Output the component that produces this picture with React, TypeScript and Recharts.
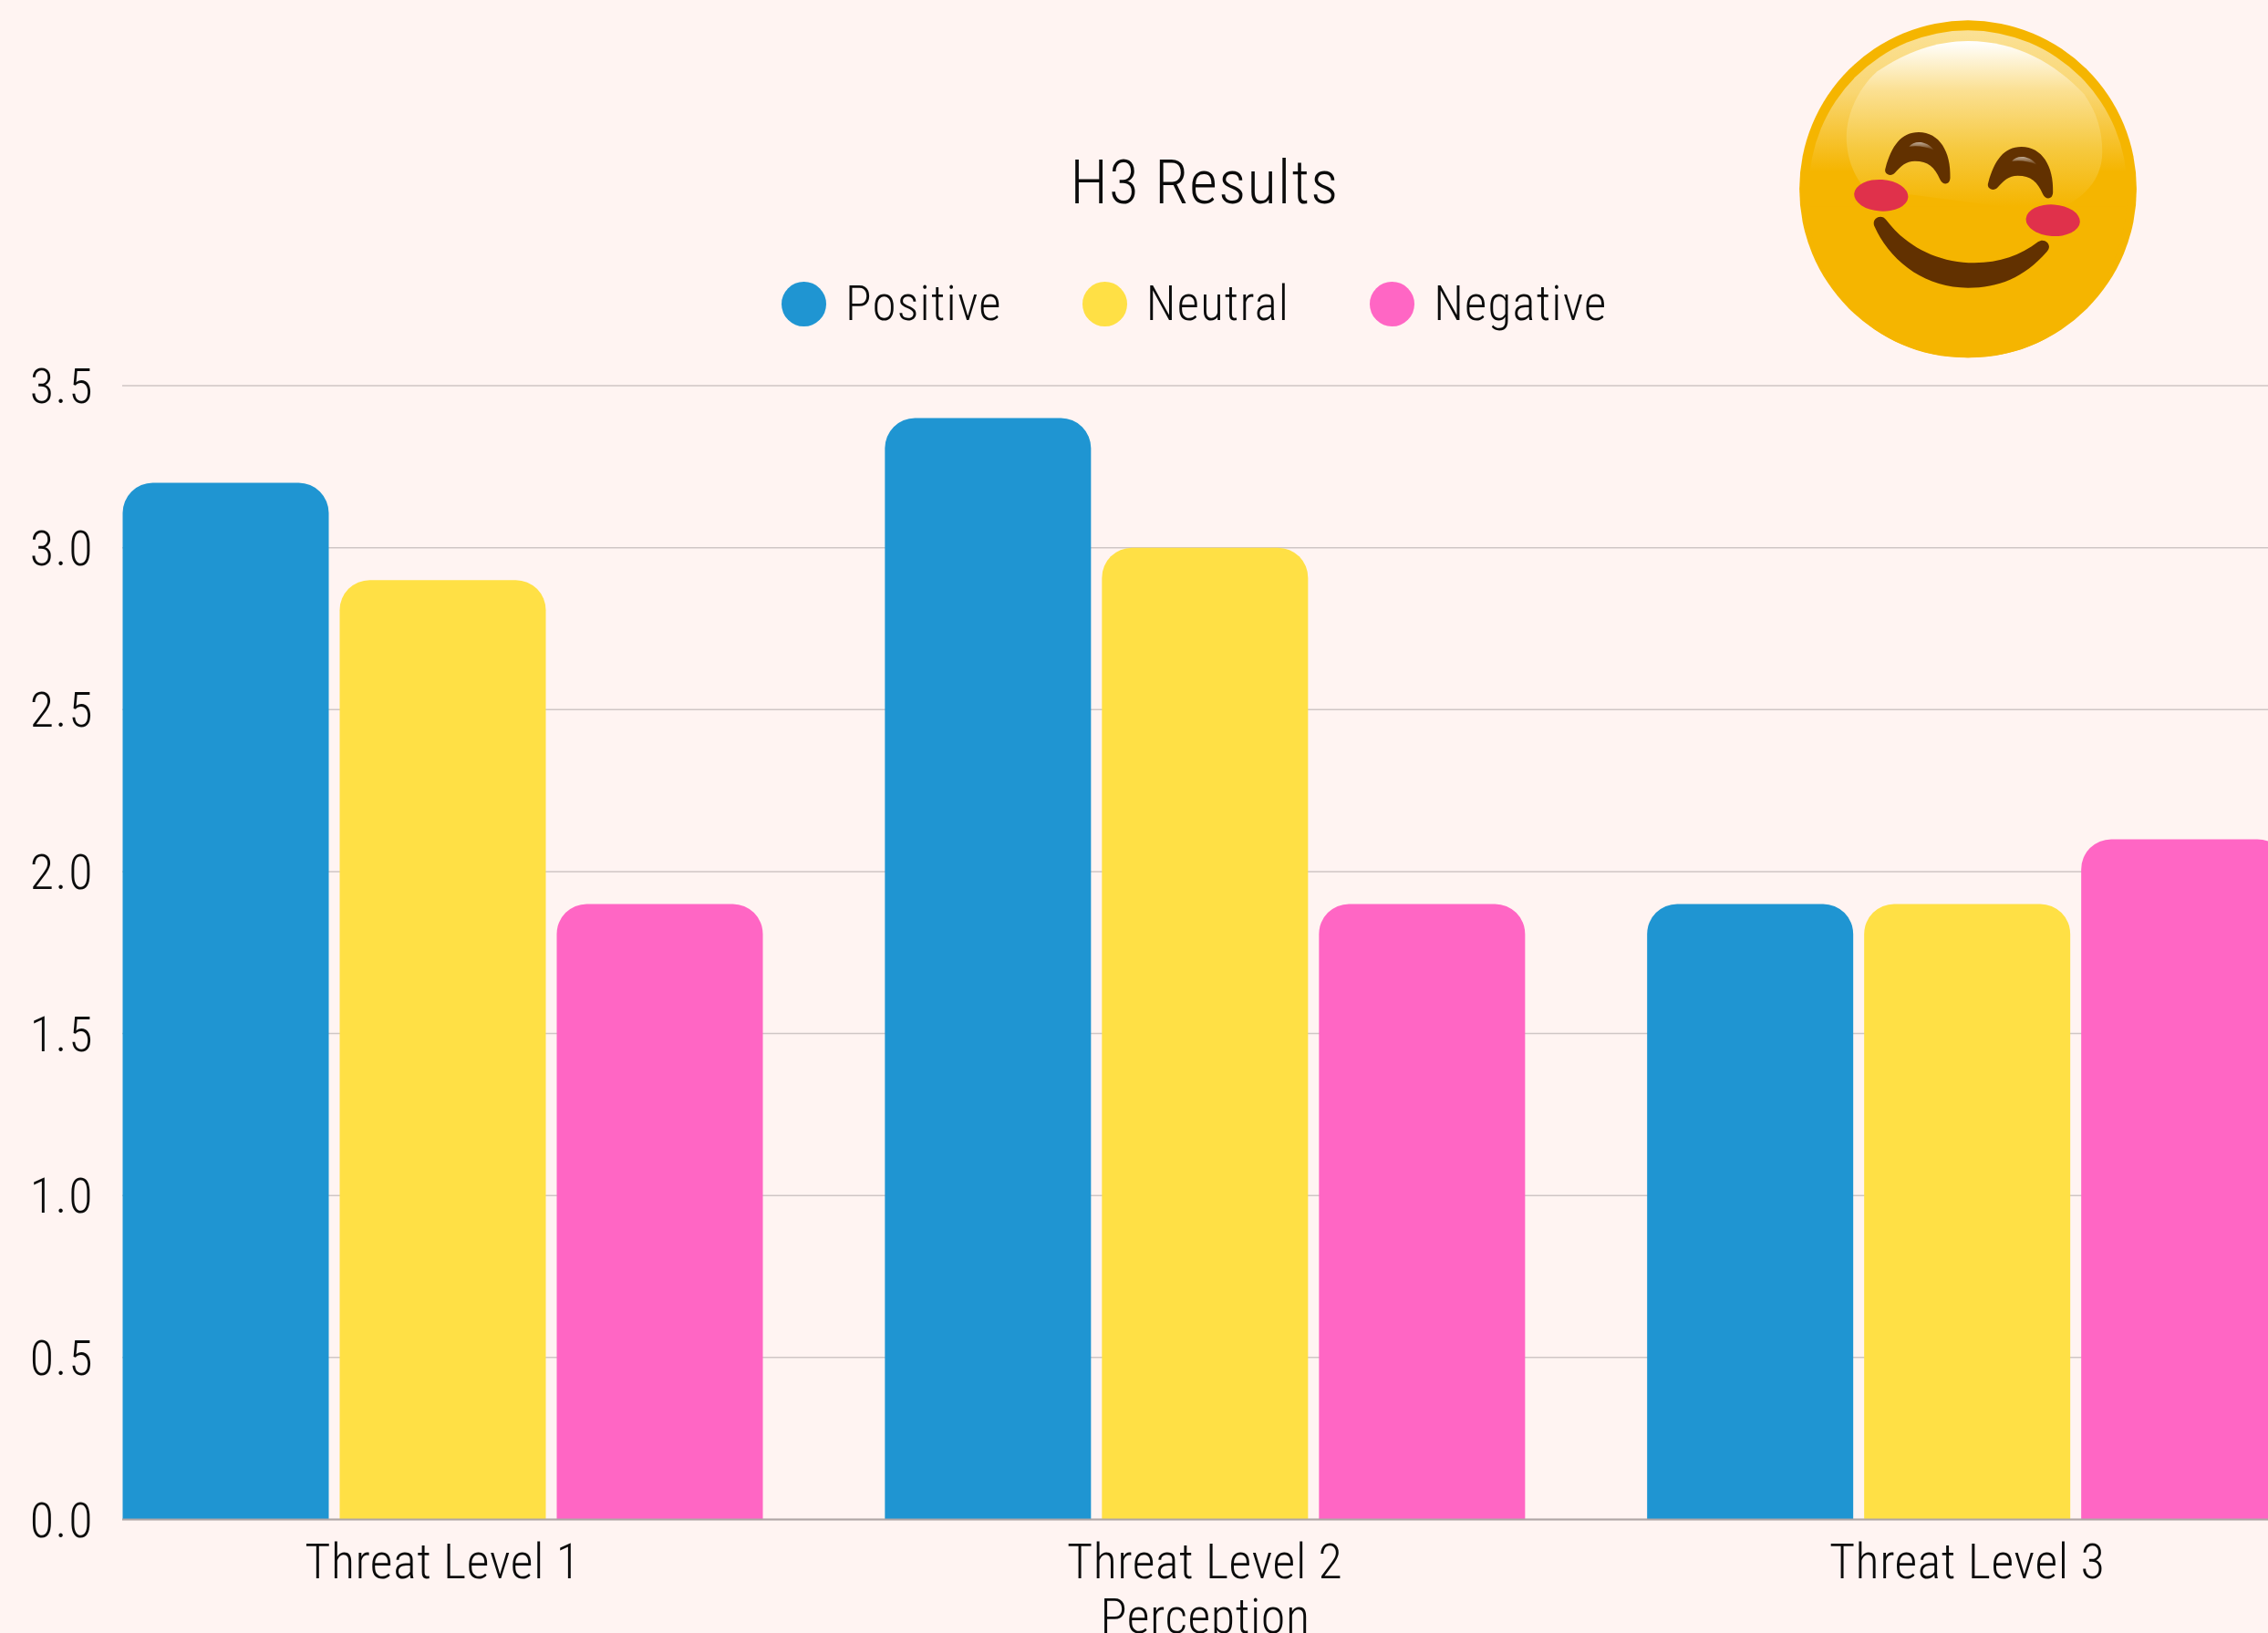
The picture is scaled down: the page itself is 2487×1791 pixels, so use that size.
import React from "react";
import { BarChart, Bar, XAxis, YAxis, CartesianGrid, Legend } from "recharts";

const categories = ["Threat Level 1", "Threat Level 2", "Threat Level 3"];
const positive = [3.2, 3.4, 1.9];
const neutral = [2.9, 3.0, 1.9];
const negative = [1.9, 1.9, 2.1];
const yTicks = [0, 0.5, 1, 1.5, 2, 2.5, 3, 3.5];
const chartTitle = "H3 Results";
const xTitle = "Perception";

const data = categories.map((name, i) => ({
  name,
  Positive: positive[i],
  Neutral: neutral[i],
  Negative: negative[i],
}));

const FONT = "Roboto, sans-serif";
const BG = "#FFF4F2";
const INK = "#0B0B0B";
const tickStyle: React.CSSProperties = { fontStretch: "85%", fontWeight: 300, letterSpacing: 0.55 };
const yTickStyle: React.CSSProperties = { fontStretch: "85%", fontWeight: 300, letterSpacing: 1.6 };
const legendStyle: React.CSSProperties = { fontStretch: "85%", fontWeight: 300, letterSpacing: 1.2 };
const titleStyle: React.CSSProperties = { fontStretch: "85%", fontWeight: 300, letterSpacing: 1.3 };

function LegendContent({ payload }: any) {
  return (
    <div style={{ display: "flex", alignItems: "center", fontFamily: FONT, fontSize: 53, color: INK, whiteSpace: "nowrap", ...legendStyle }}>
      {(payload || []).map((p: any, i: number) => (
        <div key={p.value} style={{ display: "flex", alignItems: "center", marginLeft: i === 0 ? 0 : 88 }}>
          <span style={{ width: 49, height: 49, borderRadius: "50%", background: p.color, marginRight: 21, display: "inline-block" }} />
          <span>{p.value}</span>
        </div>
      ))}
    </div>
  );
}

function Emoji() {
  const eye = "M366 552 C385 480 415 435 470 435 C535 435 572 500 569 585 C568 610 545 610 537 590 C520 550 500 530 458 530 C430 530 412 548 396 568 C382 585 358 572 366 552 Z";
  const glint = "M440 482 C455 462 495 462 518 494 C495 482 465 478 440 482 Z";
  return (
    <svg style={{ position: "absolute", left: 1940, top: 0 }} width={547} height={420} viewBox="0 0 1568 1260" preserveAspectRatio="none">
      <defs>
        <linearGradient id="rim" x1="0" y1="100" x2="0" y2="680" gradientUnits="userSpaceOnUse">
          <stop offset="0" stopColor="#FBE196" />
          <stop offset="0.35" stopColor="#F9D672" />
          <stop offset="0.8" stopColor="#F5B500" />
        </linearGradient>
        <linearGradient id="shine" x1="0" y1="135" x2="0" y2="680" gradientUnits="userSpaceOnUse">
          <stop offset="0" stopColor="#FFFFFF" />
          <stop offset="0.3" stopColor="#FBE092" />
          <stop offset="0.65" stopColor="#F6C93F" />
          <stop offset="1" stopColor="#F5B500" />
        </linearGradient>
        <linearGradient id="glint" x1="0" y1="465" x2="0" y2="495" gradientUnits="userSpaceOnUse">
          <stop offset="0" stopColor="#C9B8A5" />
          <stop offset="1" stopColor="#623100" />
        </linearGradient>
      </defs>
      <ellipse cx={625} cy={622} rx={530} ry={555} fill="#F5B500" />
      <ellipse cx={625} cy={622} rx={500} ry={522} fill="url(#rim)" />
      <path d="M125 700 C130 900 300 1177 625 1177 C950 1177 1125 900 1125 640 L1125 680 L125 680 Z" fill="#F5B500" />
      <path d="M340 235 C430 170 530 135 625 135 C780 135 900 210 990 310 C1030 370 1047 430 1047 500 C1047 590 990 660 880 700 L300 620 C260 570 243 510 243 450 C243 370 285 285 340 235 Z" fill="url(#shine)" />
      <path d={eye} fill="#623100" />
      <path d={glint} fill="url(#glint)" />
      <g transform="translate(323 48)">
        <path d={eye} fill="#623100" />
        <path d={glint} fill="url(#glint)" />
      </g>
      <ellipse cx={352} cy={643} rx={85} ry={52} fill="#E0314B" transform="rotate(4 352 643)" />
      <ellipse cx={892} cy={725} rx={85} ry={52} fill="#E0314B" transform="rotate(4 892 725)" />
      <path d="M331 745 C320 720 352 700 368 724 C430 810 530 865 645 865 C725 865 790 840 845 796 C865 780 893 805 873 828 C800 915 720 947 625 947 C490 947 380 860 331 745 Z" fill="#623100" />
    </svg>
  );
}

export default function App() {
  return (
    <div style={{ position: "absolute", left: 0, top: 0, width: 2487, height: 1791, overflow: "hidden", background: BG }}>
      <BarChart
        width={2600}
        height={1791}
        data={data}
        margin={{ top: 423, right: 25, bottom: 0, left: 0 }}
        barSize={226}
        barGap={12}
      >
        <CartesianGrid horizontal vertical={false} stroke="#CFC6C5" strokeWidth={1.5} />
        <XAxis
          dataKey="name"
          height={124.5}
          padding={{ left: -66.5, right: 0 }}
          tickLine={false}
          axisLine={{ stroke: "#AFA6A5", strokeWidth: 2 }}
          tick={{ fontFamily: FONT, fontSize: 54, fill: INK, style: tickStyle }}
          tickMargin={20}
          interval={0}
          label={{ value: xTitle, position: "insideBottom", offset: 0, dx: -33, fontFamily: FONT, fontSize: 54, fill: INK, style: tickStyle }}
        />
        <YAxis
          width={134}
          domain={[0, 3.5]}
          ticks={yTicks}
          tickFormatter={(v: number) => v.toFixed(1)}
          axisLine={false}
          tickLine={false}
          tickMargin={25}
          tick={{ fontFamily: FONT, fontSize: 54, fill: INK, style: yTickStyle }}
        />
        <Legend
          content={<LegendContent />}
          layout="horizontal"
          verticalAlign="middle"
          align="center"
          itemSorter={null}
          wrapperStyle={{ position: "absolute", left: 857, top: 302, width: "auto", height: "auto", transform: "none" }}
        />
        <Bar dataKey="Positive" fill="#1F95D2" radius={[33, 33, 0, 0]} isAnimationActive={false} />
        <Bar dataKey="Neutral" fill="#FFE045" radius={[33, 33, 0, 0]} isAnimationActive={false} />
        <Bar dataKey="Negative" fill="#FF66C4" radius={[33, 33, 0, 0]} isAnimationActive={false} />
        <text x={1321} y={223} textAnchor="middle" fontFamily={FONT} fontSize={67} fill={INK} style={titleStyle}>
          {chartTitle}
        </text>
      </BarChart>
      <Emoji />
    </div>
  );
}
